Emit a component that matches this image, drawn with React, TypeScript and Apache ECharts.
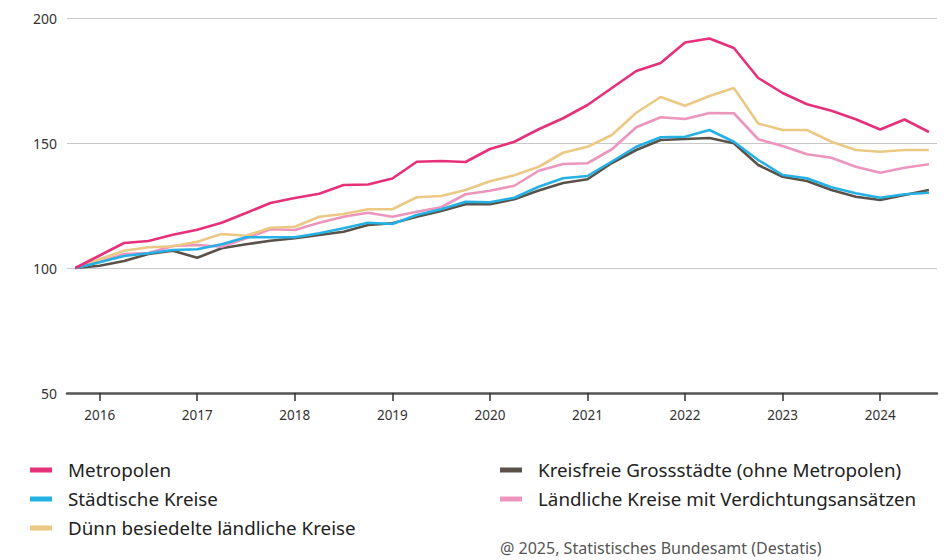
import React, { useEffect, useRef } from "react";
import * as echarts from "echarts";

// Quarters from 2015 Q4 to 2024 Q3
const quarters: string[] = [
  "2015-Q4",
  "2016-Q1", "2016-Q2", "2016-Q3", "2016-Q4",
  "2017-Q1", "2017-Q2", "2017-Q3", "2017-Q4",
  "2018-Q1", "2018-Q2", "2018-Q3", "2018-Q4",
  "2019-Q1", "2019-Q2", "2019-Q3", "2019-Q4",
  "2020-Q1", "2020-Q2", "2020-Q3", "2020-Q4",
  "2021-Q1", "2021-Q2", "2021-Q3", "2021-Q4",
  "2022-Q1", "2022-Q2", "2022-Q3", "2022-Q4",
  "2023-Q1", "2023-Q2", "2023-Q3", "2023-Q4",
  "2024-Q1", "2024-Q2", "2024-Q3",
];

const metropolen = [100, 105, 110, 110.8, 113.3, 115.3, 118.1, 122, 126, 128, 129.7, 133.2, 133.4, 135.8, 142.5, 142.8, 142.4, 147.6, 150.5, 155.5, 159.9, 165.2, 172, 178.8, 182, 190.2, 191.8, 188, 176, 170, 165.5, 162.9, 159.5, 155.4, 159.4, 154.4];
const kreisfreie = [100, 100.9, 102.8, 105.6, 106.9, 104.1, 107.9, 109.5, 110.9, 111.9, 113.2, 114.5, 117.2, 117.9, 120.5, 122.8, 125.5, 125.5, 127.5, 131, 134, 135.5, 142, 147.2, 151.2, 151.6, 152, 149.9, 141.2, 136.5, 134.8, 131.2, 128.5, 127.2, 129.2, 131.2];
const staedtische = [100, 102.3, 104.8, 105.9, 107.2, 107.5, 109.5, 112.3, 112.3, 112.3, 113.9, 115.9, 118.1, 117.6, 121.2, 123.5, 126.5, 126.3, 128.1, 132.5, 135.9, 136.8, 142.6, 148.5, 152.3, 152.5, 155.2, 150.5, 143.2, 137.2, 135.9, 132.3, 129.9, 128.1, 129.5, 130.1];
const laendlicheVerd = [100, 102.5, 105.6, 106, 108.8, 109.2, 108.5, 111.9, 115.5, 115.2, 118.1, 120.5, 122.1, 120.5, 122.5, 124.3, 129.5, 130.9, 132.9, 138.9, 141.6, 141.9, 147.5, 156.3, 160.3, 159.6, 162, 161.9, 151.5, 148.8, 145.5, 144.1, 140.5, 138.1, 140.1, 141.5];
const duennBesiedelt = [100, 103.5, 106.9, 108.3, 108.7, 110.5, 113.6, 112.9, 116.1, 116.5, 120.5, 121.6, 123.5, 123.5, 128.3, 128.8, 131.2, 134.7, 137.1, 140.5, 146.1, 148.5, 153.2, 162.1, 168.4, 164.9, 168.8, 172, 157.8, 155.2, 155.2, 150.5, 147.2, 146.5, 147.2, 147.2];

const yTicks = [50, 100, 150, 200];

const seriesNames = {
  metropolen: "Metropolen",
  kreisfreie: "Kreisfreie Grossstädte (ohne Metropolen)",
  staedtische: "Städtische Kreise",
  laendlicheVerd: "Ländliche Kreise mit Verdichtungsansätzen",
  duenn: "Dünn besiedelte ländliche Kreise",
};

const colors = {
  metropolen: "#e6317a",
  kreisfreie: "#5a5148",
  staedtische: "#25b1e3",
  laendlicheVerd: "#ec96bd",
  duenn: "#ebc984",
};

const FONT = "'Noto Sans', Lato, sans-serif";

export default function App() {
  const ref = useRef<HTMLDivElement>(null);

  useEffect(() => {
    if (!ref.current) return;
    const chart = echarts.init(ref.current, undefined, { renderer: "svg" });

    const toPairs = (arr: number[]) => arr.map((v, i) => [i, v]);
    const yearTickIdx = quarters
      .map((q, i) => (q.endsWith("Q1") ? i : -1))
      .filter((i) => i >= 0);

    const mk = (key: keyof typeof colors, arr: number[]) => ({
      name: seriesNames[key],
      type: "line",
      data: toPairs(arr),
      showSymbol: false,
      symbol: "none",
      lineStyle: { color: colors[key], width: 2.6 },
      itemStyle: { color: colors[key] },
    });

    const legendCommon = {
      orient: "vertical",
      top: 459,
      padding: 0,
      itemWidth: 22,
      itemHeight: 5,
      itemGap: 7,
      icon: "rect",
      textStyle: {
        fontFamily: FONT,
        fontSize: 18.8,
        color: "#222",
        lineHeight: 22,
        padding: [0, 0, 0, 11],
      },
      selectedMode: false,
    };

    chart.setOption({
      animation: false,
      grid: { left: 67, right: 13, top: 18, bottom: 167 },
      xAxis: {
        type: "value",
        min: -0.34,
        max: 35.33,
        splitLine: { show: false },
        axisLine: { show: true, lineStyle: { color: "#555", width: 2.5 } },
        axisTick: {
          show: true,
          customValues: yearTickIdx,
          length: 8,
          lineStyle: { color: "#333", width: 1.5 },
        },
        axisLabel: {
          customValues: yearTickIdx,
          formatter: (v: number) => quarters[Math.round(v)]?.slice(0, 4) ?? "",
          fontFamily: FONT,
          fontSize: 13.5,
          color: "#333",
          margin: 15,
        },
      },
      yAxis: {
        type: "value",
        min: yTicks[0],
        max: yTicks[yTicks.length - 1],
        interval: 50,
        axisLine: { show: false },
        axisTick: { show: false },
        splitLine: { lineStyle: { color: "#c8c8c8", width: 1 } },
        axisLabel: {
          fontFamily: FONT,
          fontSize: 14,
          color: "#333",
          margin: 10,
        },
      },
      legend: [
        {
          ...legendCommon,
          left: 30,
          data: [seriesNames.metropolen, seriesNames.staedtische, seriesNames.duenn],
        },
        {
          ...legendCommon,
          left: 500,
          data: [seriesNames.kreisfreie, seriesNames.laendlicheVerd],
        },
      ],
      graphic: [
        {
          type: "text",
          left: 500,
          top: 540,
          style: {
            text: "@ 2025, Statistisches Bundesamt (Destatis)",
            fontFamily: FONT,
            fontSize: 16,
            fill: "#555",
          },
        },
      ],
      series: [
        mk("kreisfreie", kreisfreie),
        mk("laendlicheVerd", laendlicheVerd),
        mk("duenn", duennBesiedelt),
        mk("staedtische", staedtische),
        mk("metropolen", metropolen),
      ],
    });

    return () => chart.dispose();
  }, []);

  return (
    <div
      ref={ref}
      style={{ position: "fixed", left: 0, top: 0, width: 950, height: 560, background: "#fff" }}
    />
  );
}
